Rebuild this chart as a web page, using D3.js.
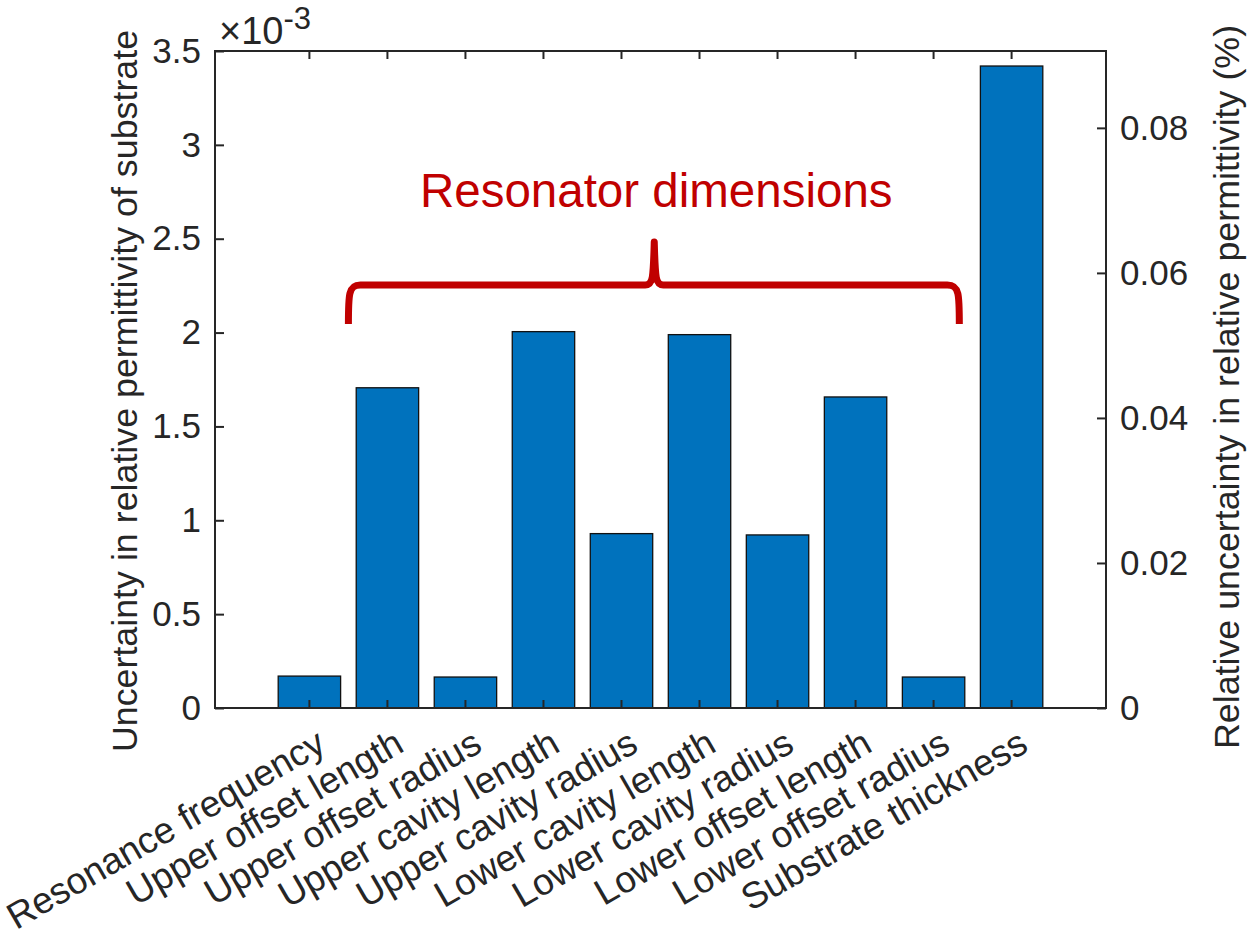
<!DOCTYPE html>
<html lang="en">
<head>
    <meta charset="UTF-8">
    <title>Uncertainty in relative permittivity</title>
    <style>
        body { margin: 0; background: #fff; }
        text { font-family: "Liberation Sans", Arial, sans-serif; fill: #262626; }
    </style>
</head>
<body>
<div id="chart"></div>
<script src="https://d3js.org/d3.v7.min.js"></script>
<script>
    const categories = [
        "Resonance frequency", "Upper offset length", "Upper offset radius",
        "Upper cavity length", "Upper cavity radius", "Lower cavity length",
        "Lower cavity radius", "Lower offset length", "Lower offset radius",
        "Substrate thickness"
    ];
    // values in units of 1e-3
    const uncertainty = [0.17, 1.706, 0.165, 2.005, 0.929, 1.989, 0.922, 1.657, 0.165, 3.42];
    const leftTicks = [0, 0.5, 1, 1.5, 2, 2.5, 3, 3.5];
    const rightTicks = [0, 0.02, 0.04, 0.06, 0.08];
    const rightMax = 0.0906;
    const annotation = "Resonator dimensions";

    const width = 1249,
        height = 929;
    const margin = {"top": 51, "left": 215, "bottom": 221, "right": 143};
    const innerW = width - margin.left - margin.right,
        innerH = height - margin.top - margin.bottom;

    const svg = d3.select("#chart")
        .append("svg")
        .attr("width", width)
        .attr("height", height);

    const g = svg.append("g")
        .attr("transform", `translate(${margin.left},${margin.top})`);

    const x = d3.scaleBand()
        .domain(categories)
        .range([0, innerW])
        .paddingInner(0.2)
        .paddingOuter(0.81);

    const y = d3.scaleLinear().domain([0, 3.5]).range([innerH, 0]);
    const yRight = d3.scaleLinear().domain([0, rightMax]).range([innerH, 0]);

    // category index -> bar centre, used for the brace
    const xIdx = d3.scaleLinear()
        .domain([0, categories.length - 1])
        .range([x(categories[0]) + x.bandwidth() / 2, x(categories[categories.length - 1]) + x.bandwidth() / 2]);

    const axisColor = "#262626";

    // bars
    g.append("g")
        .selectAll("rect")
        .data(uncertainty)
        .join("rect")
        .attr("x", (d, i) => x(categories[i]))
        .attr("y", d => y(d))
        .attr("width", x.bandwidth())
        .attr("height", d => innerH - y(d))
        .style("fill", "#0072BD")
        .style("stroke", "#111")
        .style("stroke-width", 1.3);

    function styleAxis(sel) {
        sel.select(".domain").remove();
        sel.selectAll(".tick line").style("stroke", axisColor).style("stroke-width", 2);
        sel.selectAll(".tick text").style("font-size", "35px").style("fill", axisColor)
            .style("font-family", "'Liberation Sans', Arial, sans-serif");
    }

    // left axis
    g.append("g")
        .call(d3.axisLeft(y).tickValues(leftTicks).tickSize(-9).tickPadding(14)
            .tickFormat(d => d3.format("")(d)))
        .call(styleAxis);

    // right axis
    g.append("g")
        .attr("transform", `translate(${innerW},0)`)
        .call(d3.axisRight(yRight).tickValues(rightTicks).tickSize(-9).tickPadding(14)
            .tickFormat(d => d === 0 ? "0" : d3.format(".2f")(d)))
        .call(styleAxis);

    // bottom axis
    const bottom = g.append("g")
        .attr("transform", `translate(0,${innerH})`)
        .call(d3.axisBottom(x).tickSize(-8).tickFormat(""))
        .call(styleAxis);

    bottom.selectAll(".tick")
        .append("text")
        .text(d => d)
        .attr("text-anchor", "end")
        .attr("dy", "0.35em")
        .attr("transform", "translate(12,31) rotate(-30)")
        .style("font-size", "37px");

    // top axis
    g.append("g")
        .call(d3.axisTop(x).tickSize(-8).tickFormat(""))
        .call(styleAxis);

    // box
    g.append("rect")
        .attr("width", innerW)
        .attr("height", innerH)
        .style("fill", "none")
        .style("stroke", axisColor)
        .style("stroke-width", 2);

    // exponent label
    const expo = svg.append("text")
        .attr("x", margin.left + 4)
        .attr("y", 44)
        .style("font-size", "38px");
    expo.append("tspan").text("\u00d710");
    expo.append("tspan").text("-3").attr("dy", -15).style("font-size", "31px");

    // axis titles
    svg.append("text")
        .attr("transform", `translate(137,391) rotate(-90)`)
        .attr("text-anchor", "middle")
        .style("font-size", "35.8px")
        .text("Uncertainty in relative permittivity of substrate");

    svg.append("text")
        .attr("transform", `translate(1239,387) rotate(-90)`)
        .attr("text-anchor", "middle")
        .style("font-size", "35.8px")
        .text("Relative uncertainty in relative permittivity (%)");

    // brace over resonator dimensions
    const xl = xIdx(0.5), xr = xIdx(8.33), xp = xIdx(4.42);
    const yb = y(2.046), yh = y(2.254), yt = y(2.483);
    const brace = d3.path();
    brace.moveTo(xl, yb);
    brace.bezierCurveTo(xl, yh + 10, xl, yh, xl + 12, yh);
    brace.lineTo(xp - 9, yh);
    brace.bezierCurveTo(xp - 1, yh, xp - 1, yh - 8, xp, yt);
    brace.bezierCurveTo(xp + 1, yh - 8, xp + 1, yh, xp + 9, yh);
    brace.lineTo(xr - 12, yh);
    brace.bezierCurveTo(xr, yh, xr, yh + 10, xr, yb);

    g.append("path")
        .attr("d", brace.toString())
        .style("fill", "none")
        .style("stroke", "#C00000")
        .style("stroke-width", 7)
        .style("stroke-linejoin", "round");

    g.append("text")
        .attr("x", xp + 2)
        .attr("y", y(2.67))
        .attr("text-anchor", "middle")
        .style("font-size", "47.5px")
        .style("fill", "#C00000")
        .text(annotation);
</script>
</body>
</html>
